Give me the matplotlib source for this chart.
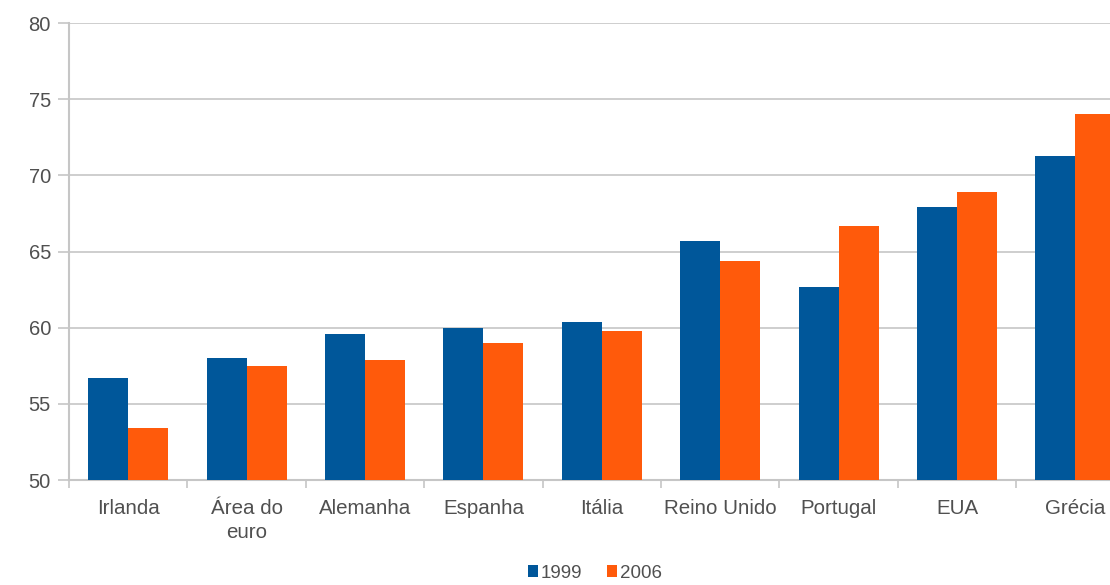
import matplotlib.pyplot as plt
import numpy as np

plt.rcParams['font.family'] = ['Liberation Sans', 'DejaVu Sans']

paises = ['Irlanda', 'Área do\neuro', 'Alemanha', 'Espanha', 'Itália',
          'Reino Unido', 'Portugal', 'EUA', 'Grécia']
v1999 = [56.7, 58.0, 59.6, 60.0, 60.4, 65.7, 62.7, 67.9, 71.3]
v2006 = [53.4, 57.5, 57.9, 59.0, 59.8, 64.4, 66.7, 68.9, 74.0]

azul = '#00579a'
laranja = '#ff5a0b'
cinza = '#c6c6c6'
texto = '#505050'

fig = plt.figure(figsize=(11.1, 5.85), dpi=100)
ax = fig.add_axes([69 / 1110, 1 - 480 / 585, 9 * 118.4 / 1110, 457 / 585])

x = np.arange(len(paises))
w = 0.338
ax.bar(x - w / 2, v1999, w, color=azul, label='1999', zorder=3)
ax.bar(x + w / 2, v2006, w, color=laranja, label='2006', zorder=3)

ax.set_xlim(-0.5, len(paises) - 0.5)
ax.set_ylim(50, 80)
ax.set_yticks(range(50, 81, 5))
ax.yaxis.grid(True, color=cinza, linewidth=1.2, zorder=0)

ax.set_xticks(x)
ax.set_xticklabels(paises, fontsize=14.8, color=texto, linespacing=1.3)
ax.set_xticks(np.arange(-0.5, len(paises), 1), minor=True)
ax.tick_params(axis='x', which='major', length=0, pad=14)
ax.tick_params(axis='x', which='minor', length=6, width=1.2, color=cinza, direction='out')
ax.tick_params(axis='y', length=8, width=1.2, color=cinza, labelsize=14.5,
               labelcolor=texto, pad=5)

for s in ['top', 'right']:
    ax.spines[s].set_visible(False)
for s in ['left', 'bottom']:
    ax.spines[s].set_color(cinza)
    ax.spines[s].set_linewidth(1.5)

fig.legend(loc='center', bbox_to_anchor=(595 / 1110, 1 - 573 / 585), ncol=2,
           frameon=False, fontsize=13.5, handlelength=0.55, handleheight=0.55,
           handletextpad=0.15, columnspacing=1.3, labelcolor=texto,
           borderpad=0.1)

fig.savefig('out.png', dpi=100)
